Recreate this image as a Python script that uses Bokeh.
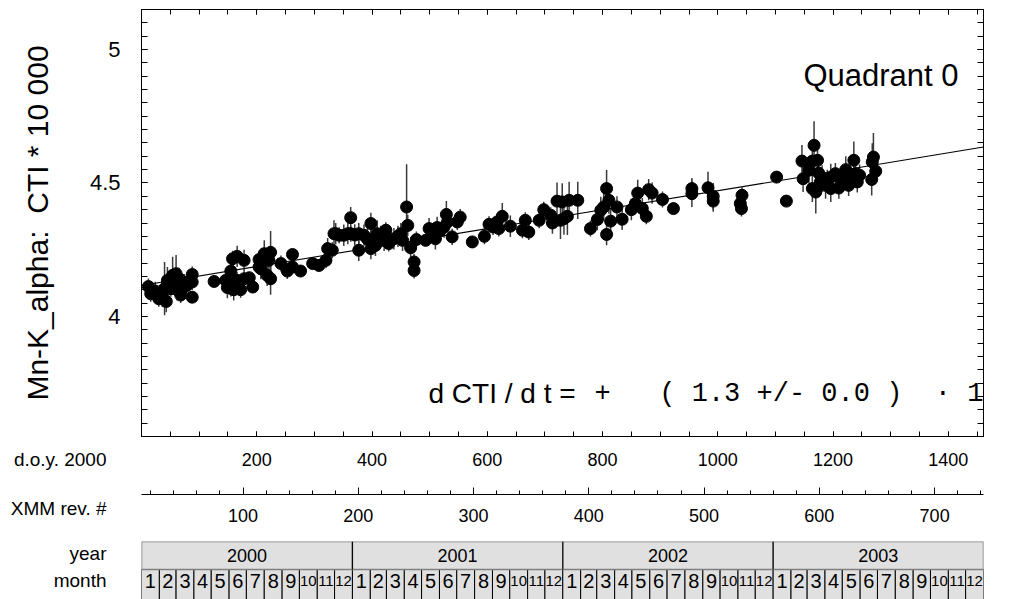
from datetime import date

from bokeh.plotting import figure
from bokeh.models import (ColumnDataSource, Range1d, LinearAxis, SingleIntervalTicker,
                          CustomJSTickFormatter, Label)
from bokeh.layouts import column, row
from bokeh.embed import file_html
from bokeh.resources import INLINE
from bokeh.core.properties import value, field

# ------------------------------------------------------------------ data
# day of year (relative to 1 Jan 2000), CTI * 10000, 1-sigma error
DOY = [12, 16, 24, 30, 36, 40, 43, 45, 48, 51, 54, 57, 60, 62, 65, 68, 71, 74, 78, 88, 88, 88,
       126, 146, 149, 155, 155, 158, 160, 166, 166, 172, 178, 178, 187, 193,
       204, 204, 207, 213, 218, 221, 224, 224, 242, 253, 262, 262, 276, 297, 308, 320, 323, 331, 334, 337, 343,
       351, 358, 363, 363, 370, 377, 377, 386, 392, 398, 398, 398, 406, 409, 415, 421, 424, 429, 438, 445,
       450, 453, 460, 462, 467, 473, 473, 477, 493, 499, 505, 510, 513, 518, 525, 529, 531, 539, 548, 553,
       574, 595, 603, 610, 617, 620, 626, 640, 661, 666, 672,
       690, 698, 710, 713, 721, 727, 730, 733, 739, 742, 757, 779, 791, 797, 802, 807, 807, 811, 814, 825,
       834, 850, 857, 861, 869, 876, 880, 886, 904, 923, 955, 955, 983, 992, 992, 1039, 1041, 1042,
       1102, 1119, 1146, 1148, 1158, 1164, 1164, 1167, 1170, 1173, 1175, 1178, 1181, 1187, 1190, 1196,
       1196, 1204, 1210, 1213, 1222, 1227, 1230, 1236, 1239, 1242, 1246, 1267, 1268, 1270, 1274]

CTI = [4.112, 4.085, 4.095, 4.066, 4.075, 4.104, 4.056, 4.135, 4.118, 4.104, 4.154, 4.123, 4.160, 4.100,
       4.142, 4.080, 4.104, 4.129, 4.115, 4.157, 4.129, 4.072,
       4.131, 4.135, 4.108, 4.170, 4.105, 4.216, 4.100, 4.225, 4.135, 4.100, 4.210, 4.141, 4.145, 4.110,
       4.213, 4.185, 4.179, 4.235, 4.154, 4.210, 4.240, 4.141, 4.198, 4.170, 4.232, 4.185, 4.170, 4.198,
       4.191, 4.210, 4.254, 4.248, 4.310, 4.310, 4.304,
       4.304, 4.310, 4.370, 4.310, 4.305, 4.248, 4.310, 4.304, 4.290, 4.348, 4.285, 4.254, 4.266, 4.310,
       4.300, 4.285, 4.323, 4.273, 4.291, 4.300,
       4.310, 4.285, 4.410, 4.341, 4.257, 4.204, 4.172, 4.288, 4.285, 4.329, 4.320, 4.291, 4.333, 4.320,
       4.335, 4.382, 4.354, 4.298, 4.354, 4.372,
       4.279, 4.300, 4.345, 4.335, 4.354, 4.329, 4.375, 4.338, 4.323, 4.360, 4.316,
       4.360, 4.400, 4.379, 4.350, 4.432, 4.360, 4.429, 4.366, 4.375, 4.435, 4.435, 4.329, 4.363, 4.398,
       4.410, 4.479, 4.307, 4.435, 4.357, 4.410,
       4.364, 4.400, 4.423, 4.462, 4.404, 4.375, 4.475, 4.462, 4.438, 4.404, 4.479, 4.460, 4.482, 4.450,
       4.432, 4.423, 4.404, 4.454,
       4.522, 4.432, 4.582, 4.516, 4.548, 4.582, 4.479, 4.641, 4.466, 4.585, 4.537, 4.504, 4.516, 4.491,
       4.510, 4.479,
       4.522, 4.535, 4.481, 4.516, 4.550, 4.491, 4.525, 4.585, 4.535, 4.504, 4.529, 4.513, 4.579, 4.597, 4.544]

CTI_ERR = [0.03, 0.03, 0.035, 0.03, 0.04, 0.10, 0.04, 0.05, 0.04, 0.03, 0.07, 0.04, 0.07, 0.04, 0.04,
           0.03, 0.03, 0.03, 0.03, 0.03, 0.03, 0.02,
           0.02, 0.03, 0.04, 0.04, 0.03, 0.03, 0.04, 0.04, 0.03, 0.03, 0.04, 0.03, 0.02, 0.02,
           0.03, 0.03, 0.04, 0.05, 0.04, 0.05, 0.08, 0.06, 0.03, 0.03, 0.02, 0.02, 0.02, 0.02, 0.02,
           0.03, 0.04, 0.03, 0.05, 0.04, 0.03,
           0.04, 0.04, 0.04, 0.03, 0.04, 0.04, 0.04, 0.04, 0.04, 0.04, 0.04, 0.04, 0.04, 0.05, 0.04, 0.04,
           0.03, 0.03, 0.04, 0.04,
           0.04, 0.04, 0.16, 0.04, 0.04, 0.03, 0.03, 0.03, 0.02, 0.04, 0.03, 0.04, 0.04, 0.03, 0.04, 0.05,
           0.04, 0.03, 0.03, 0.03,
           0.02, 0.03, 0.03, 0.03, 0.03, 0.03, 0.05, 0.04, 0.03, 0.03, 0.03,
           0.03, 0.03, 0.03, 0.04, 0.07, 0.07, 0.07, 0.06, 0.07, 0.07, 0.07, 0.03, 0.04, 0.05, 0.05, 0.07,
           0.04, 0.05, 0.05, 0.04,
           0.04, 0.04, 0.04, 0.05, 0.04, 0.03, 0.04, 0.04, 0.03, 0.02, 0.04, 0.05, 0.06, 0.05, 0.04, 0.03,
           0.03, 0.03,
           0.02, 0.02, 0.06, 0.05, 0.05, 0.05, 0.05, 0.09, 0.08, 0.04, 0.04, 0.05, 0.05, 0.05, 0.04, 0.05,
           0.05, 0.04, 0.04, 0.04, 0.05, 0.04, 0.04, 0.07, 0.04, 0.04, 0.04, 0.06, 0.07, 0.09, 0.04]

assert len(DOY) == len(CTI) == len(CTI_ERR), (len(DOY), len(CTI), len(CTI_ERR))

# linear fit shown in the panel
FIT_INTERCEPT = 4.116          # CTI*10000 at d.o.y. 0
FIT_SLOPE = 0.000355           # per day

DOY_RANGE = (0, 1461)
CTI_RANGE = (3.55, 5.15)
REV_AT_DOY0 = 11.9             # XMM revolution number at d.o.y. 0
REV_PER_DAY = 0.5              # ~48 h orbit
YEARS = [2000, 2001, 2002, 2003]
MONTHS = list(range(1, 13))

TITLE_TEXT = "Quadrant 0"
YLABEL_TEXT = "Mn-K_alpha:\u00a0 CTI * 10 000"
FORMULA_SANS = "d CTI / d t ="
FORMULA_MONO = "+\u00a0\u00a0\u00a0(\u00a01.3\u00a0+/-\u00a00.0\u00a0)\u00a0\u00a0\u00b7\u00a010"
ROW_CAPTIONS = ["d.o.y. 2000", "XMM rev. #", "year", "month"]

# ------------------------------------------------------------------ style / layout
SANS = "Liberation Sans"
MONO = "Liberation Mono"
WIDTH = 1015
BORDER_L = 141
BORDER_R = 32
GREY_FILL = "#e0e0e0"
CAPTION_X = 106                          # right edge of row captions (px)
CAPTION_Y = [22, 71, 116, 143]           # caption centres, px below the main frame
LOWER_H = 162


def style_axis(ax, tick_major, tick_minor, size=18, standoff=12, hide=False):
    ax.axis_line_color = "black"
    ax.axis_line_width = 1
    ax.major_tick_in = tick_major
    ax.major_tick_out = 0
    ax.minor_tick_in = tick_minor
    ax.minor_tick_out = 0
    ax.major_tick_line_color = "black"
    ax.minor_tick_line_color = "black"
    ax.major_label_text_font = SANS
    ax.major_label_text_color = "black"
    ax.major_label_text_font_size = f"{size}px"
    ax.major_label_standoff = standoff
    if hide:
        ax.formatter = CustomJSTickFormatter(code="return '';")
        ax.major_label_text_font_size = "0px"
        ax.major_label_standoff = 0


def label(text, x, y, size, font=SANS, align="left", baseline="alphabetic"):
    return Label(x=x, y=y, x_units="screen", y_units="screen", text=text,
                 text_font=font, text_font_size=f"{size}px", text_color="black",
                 text_align=align, text_baseline=baseline)


def blank_fig(width, height, x_range, y_range, **borders):
    f = figure(width=width, height=height, x_range=x_range, y_range=y_range,
               x_axis_type=None, y_axis_type=None, output_backend="svg", toolbar_location=None,
               background_fill_color="white", border_fill_color="white", outline_line_color=None,
               **borders)
    f.grid.visible = False
    return f


# ------------------------------------------------------------------ main panel
main = figure(width=WIDTH, height=437, x_range=Range1d(*DOY_RANGE), y_range=Range1d(*CTI_RANGE),
              output_backend="svg", toolbar_location=None,
              min_border_left=BORDER_L, min_border_right=BORDER_R,
              min_border_top=9, min_border_bottom=1,
              background_fill_color="white", border_fill_color="white")
main.grid.visible = False
main.outline_line_color = "black"
main.outline_line_alpha = 1.0
main.outline_line_width = 1

yax = main.yaxis[0]
yax.ticker = SingleIntervalTicker(interval=0.5, num_minor_ticks=10)
yax.formatter = CustomJSTickFormatter(code="return String(Math.round(tick * 100) / 100);")
style_axis(yax, 6, 6, size=22, standoff=21)
yax.axis_label = YLABEL_TEXT
yax.axis_label_text_font = SANS
yax.axis_label_text_font_size = "30px"
yax.axis_label_text_font_style = "normal"
yax.axis_label_text_color = "black"
yax.axis_label_standoff = 33

xax = main.xaxis[0]
xax.ticker = SingleIntervalTicker(interval=200, num_minor_ticks=4)
style_axis(xax, 5, 5, hide=True)

right_ax = LinearAxis(ticker=SingleIntervalTicker(interval=0.5, num_minor_ticks=10))
style_axis(right_ax, 6, 6, hide=True)
main.add_layout(right_ax, "right")
top_ax = LinearAxis(ticker=SingleIntervalTicker(interval=200, num_minor_ticks=4))
style_axis(top_ax, 5, 5, hide=True)
main.add_layout(top_ax, "above")

src = ColumnDataSource(dict(
    doy=DOY, cti=CTI,
    lo=[c - e for c, e in zip(CTI, CTI_ERR)],
    hi=[c + e for c, e in zip(CTI, CTI_ERR)],
))
main.segment(x0="doy", y0="lo", x1="doy", y1="hi", source=src, line_color="#3a3a3a", line_width=1.5)
fit_x = list(DOY_RANGE)
fit_y = [FIT_INTERCEPT + FIT_SLOPE * d for d in fit_x]
main.line(fit_x, fit_y, line_color="black", line_width=1.1)
main.scatter("doy", "cti", source=src, size=12, color="black")

main.add_layout(label(TITLE_TEXT, 817, 361, 31, align="right", baseline="middle"))
main.add_layout(label(FORMULA_SANS, 287, 43, 28))
main.add_layout(label(FORMULA_MONO, 453, 43, 27, font=MONO))

# ------------------------------------------------------------------ lower block
PLOT_W = WIDTH - BORDER_L

# row captions
cap = blank_fig(BORDER_L, LOWER_H, Range1d(0, BORDER_L), Range1d(LOWER_H, 0),
                min_border_left=0, min_border_right=0, min_border_top=0, min_border_bottom=0)
cap_src = ColumnDataSource(dict(x=[CAPTION_X] * len(ROW_CAPTIONS), y=CAPTION_Y, text=ROW_CAPTIONS))
cap.text(x="x", y="y", text="text", source=cap_src, text_font=value(SANS), text_font_size="19px",
         text_align="right", text_baseline="middle", text_color="black")

# d.o.y. tick labels
doy = blank_fig(PLOT_W, 43, Range1d(*DOY_RANGE), Range1d(0, 1),
                min_border_left=0, min_border_right=BORDER_R, min_border_top=0, min_border_bottom=41)
doy_ax = LinearAxis(ticker=SingleIntervalTicker(interval=200, num_minor_ticks=4),
                    formatter=CustomJSTickFormatter(code="return tick == 0 ? '' : String(tick);"))
style_axis(doy_ax, 0, 0, size=18, standoff=13)
doy_ax.axis_line_color = None
doy_ax.major_tick_line_color = None
doy_ax.minor_tick_line_color = None
doy.add_layout(doy_ax, "below")

# XMM revolution axis
rev_range = (REV_AT_DOY0 + REV_PER_DAY * DOY_RANGE[0], REV_AT_DOY0 + REV_PER_DAY * DOY_RANGE[1])
rev = blank_fig(PLOT_W, 53, Range1d(*rev_range), Range1d(0, 1),
                min_border_left=0, min_border_right=BORDER_R, min_border_top=0, min_border_bottom=39)
rev_ax = LinearAxis(ticker=SingleIntervalTicker(interval=100, num_minor_ticks=5))
style_axis(rev_ax, 7, 4, size=18, standoff=14)
rev.add_layout(rev_ax, "below")

# calendar strip
EPOCH = date(YEARS[0], 1, 1)
year_left = [(date(y, 1, 1) - EPOCH).days for y in YEARS]
year_right = [(date(y + 1, 1, 1) - EPOCH).days for y in YEARS]
year_src = ColumnDataSource(dict(left=year_left, right=year_right,
                                 mid=[(a + b) / 2 for a, b in zip(year_left, year_right)],
                                 label=[str(y) for y in YEARS]))
m_left, m_right, m_label, m_size = [], [], [], []
for y in YEARS:
    for m in MONTHS:
        start = date(y, m, 1)
        end = date(y + 1, 1, 1) if m == 12 else date(y, m + 1, 1)
        m_left.append((start - EPOCH).days)
        m_right.append((end - EPOCH).days)
        m_label.append(str(m))
        m_size.append("20px" if m < 10 else "15px")
month_src = ColumnDataSource(dict(left=m_left, right=m_right,
                                  mid=[(a + b) / 2 for a, b in zip(m_left, m_right)],
                                  label=m_label, size=m_size))
sep_src = ColumnDataSource(dict(x=year_left[1:]))

YEAR_TOP, YEAR_BOTTOM, MONTH_BOTTOM = 0, -28, -58
cal = blank_fig(PLOT_W, 66, Range1d(*DOY_RANGE), Range1d(-58, 0),
                min_border_left=0, min_border_right=BORDER_R, min_border_top=8, min_border_bottom=0)
cal.quad(left="left", right="right", top=YEAR_BOTTOM, bottom=MONTH_BOTTOM, source=month_src,
         fill_color=GREY_FILL, line_color="black", line_width=1)
cal.quad(left="left", right="right", top=YEAR_TOP, bottom=YEAR_BOTTOM, source=year_src,
         fill_color=GREY_FILL, line_color="#7f7f7f", line_width=1.5)
cal.segment(x0="x", y0=YEAR_TOP, x1="x", y1=YEAR_BOTTOM, source=sep_src, line_color="black", line_width=1)
cal.text(x="mid", y=(YEAR_TOP + YEAR_BOTTOM) / 2, text="label", source=year_src,
         text_font=value(SANS), text_font_size="18px", text_align="center", text_baseline="middle",
         text_color="black")
cal.text(x="mid", y=YEAR_BOTTOM - 11, text="label", source=month_src,
         text_font=value(SANS), text_font_size=field("size"), text_align="center",
         text_baseline="middle", text_color="black")

layout = column(main, row(cap, column(doy, rev, cal)))
open("out.html", "w").write(file_html(layout, INLINE))
